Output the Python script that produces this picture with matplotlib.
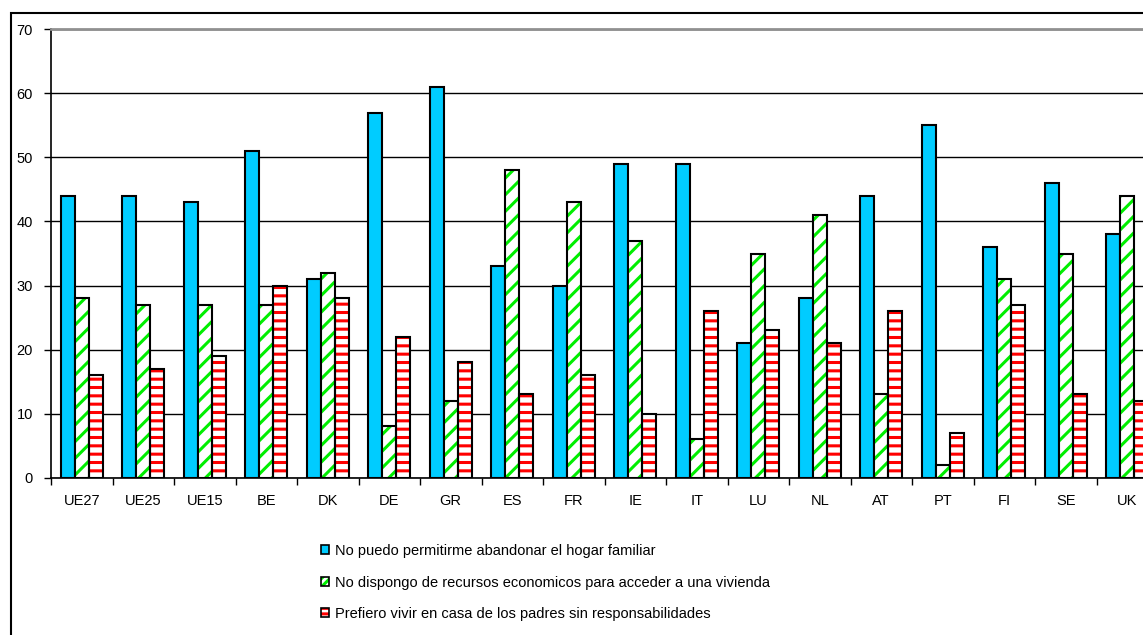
import numpy as np
import matplotlib
matplotlib.use("Agg")
import matplotlib.pyplot as plt
from matplotlib.patches import Rectangle
from matplotlib.legend_handler import HandlerTuple

# data
countries = ["UE27", "UE25", "UE15", "BE", "DK", "DE", "GR", "ES", "FR",
             "IE", "IT", "LU", "NL", "AT", "PT", "FI", "SE", "UK"]
no_puedo = [44, 44, 43, 51, 31, 57, 61, 33, 30, 49, 49, 21, 28, 44, 55, 36, 46, 38]
no_recursos = [28, 27, 27, 27, 32, 8, 12, 48, 43, 37, 6, 35, 41, 13, 2, 31, 35, 44]
prefiero = [16, 17, 19, 30, 28, 22, 18, 13, 16, 10, 26, 23, 21, 26, 7, 27, 13, 12]
series_labels = ["No puedo permitirme abandonar el hogar familiar",
                 "No dispongo de recursos economicos para acceder a una vivienda",
                 "Prefiero vivir en casa de los padres sin responsabilidades"]

plt.rcParams['font.family'] = ['Liberation Sans', 'DejaVu Sans']
plt.rcParams['hatch.linewidth'] = 2.2

W, H = 1143, 635
fig = plt.figure(figsize=(W / 100, H / 100), dpi=100)

# outer chart frame (runs off the right/bottom edge of the crop)
fig.patches.append(Rectangle((11 / W, -0.1), 1.2, 1 - 13 / H + 0.1,
                             transform=fig.transFigure, fill=False,
                             edgecolor='black', linewidth=1.5))

left, right, top, bottom = 51, 1158, 29.3, 477.7
ax = fig.add_axes([left / W, (H - bottom) / H, (right - left) / W, (bottom - top) / H])

x = np.arange(len(countries))
w = 0.228
blue = '#00CCFF'
green = '#00EE00'
red = '#FF0000'


def hatched_bars(xpos, vals, color, hatch):
    # hatch takes edge colour in mpl 3.10, so draw fill + outline separately
    ax.bar(xpos, vals, w, color='white', edgecolor=color, hatch=hatch,
           linewidth=0, zorder=3)
    ax.bar(xpos, vals, w, facecolor='none', edgecolor='black', linewidth=1.5, zorder=4)


ax.bar(x - w, no_puedo, w, color=blue, edgecolor='black', linewidth=1.5, zorder=3)
hatched_bars(x, no_recursos, green, '//')
hatched_bars(x + w, prefiero, red, '--')

ax.set_xlim(-0.5, len(countries) - 0.5)
ax.set_ylim(0, 70)
ax.set_yticks(range(0, 71, 10))
ax.yaxis.grid(True, color='black', linewidth=1.0, zorder=0)
ax.set_axisbelow(True)

ax.set_xticks(np.arange(-0.5, len(countries), 1))
ax.set_xticklabels([])
ax.set_xticks(x, minor=True)
ax.set_xticklabels(countries, minor=True)
ax.tick_params(axis='x', which='major', length=5, width=1, color='black')
ax.tick_params(axis='x', which='minor', length=0, pad=12, labelsize=10.5)
ax.tick_params(axis='y', length=5, width=1, pad=8, labelsize=10.5)

for s in ['left', 'bottom']:
    ax.spines[s].set_color('black')
    ax.spines[s].set_linewidth(1.2)
ax.spines['top'].set_color('#909090')
ax.spines['top'].set_linewidth(2)
ax.spines['right'].set_visible(False)

# legend with composite handles (denser hatch so it shows in the small key)
h_blue = Rectangle((0, 0), 1, 1, facecolor=blue, edgecolor='black', linewidth=1.2)
h_green = (Rectangle((0, 0), 1, 1, facecolor='white', edgecolor=green, hatch='////', linewidth=0),
           Rectangle((0, 0), 1, 1, facecolor='none', edgecolor='black', linewidth=1.2))
h_red = (Rectangle((0, 0), 1, 1, facecolor='white', edgecolor=red, hatch='---', linewidth=0),
         Rectangle((0, 0), 1, 1, facecolor='none', edgecolor='black', linewidth=1.2))
fig.legend([h_blue, h_green, h_red], series_labels,
           handler_map={tuple: HandlerTuple(ndivide=1, pad=0)},
           loc='upper left', bbox_to_anchor=(321 / W, 1 - 544 / H),
           frameon=False, fontsize=10.5, handlelength=0.55, handleheight=0.55,
           handletextpad=0.4, labelspacing=1.2, borderpad=0, borderaxespad=0)

fig.savefig("out.png", dpi=100)
